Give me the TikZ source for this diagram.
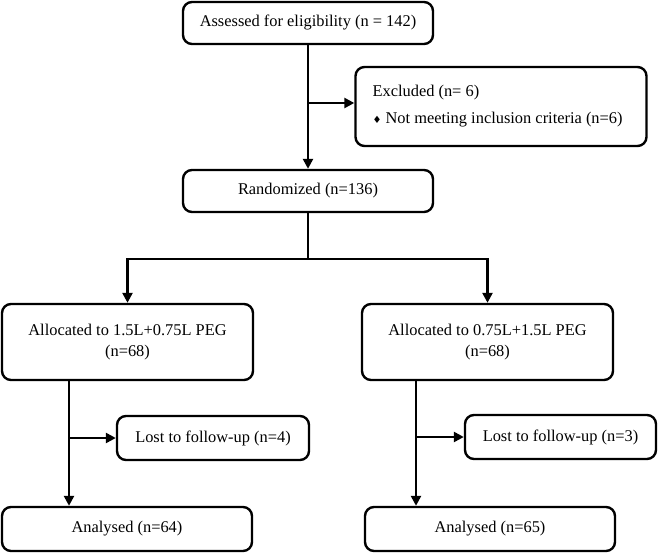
\documentclass[tikz,border=0pt]{standalone}
\usepackage{fontspec}
\setmainfont{Liberation Serif}
\newfontfamily\symfont{DejaVu Sans}
\usetikzlibrary{arrows.meta}
\begin{document}
\begin{tikzpicture}[x=1pt,y=-1pt,
  txt/.style={font=\fontsize{16.4}{21}\selectfont},
  box/.style={txt, draw, line width=2.4pt, rounded corners=9pt, inner sep=0pt, align=center},
  conn/.style={line width=2.4pt},
  arr/.style={conn, -{Triangle[length=10pt,width=10pt]}}]
\useasboundingbox (0,0) rectangle (658,553);
\node[box, minimum width=250pt, minimum height=42pt] (a) at (308,23) {Assessed for eligibility (n = 142)};
\node[box, minimum width=291pt, minimum height=79pt] (e) at (501,106.5) {};
\node[txt, anchor=west] (et1) at (369,93) {Excluded (n= 6)};
\node[txt, anchor=west] (et2) at (369,120) {{\symfont\fontsize{10}{10}\selectfont ♦} Not meeting inclusion criteria (n=6)};
\node[box, minimum width=250pt, minimum height=42pt] (r) at (308,191) {Randomized (n=136)};
\node[box, minimum width=251pt, minimum height=76pt] (al) at (127.5,342) {Allocated to 1.5L+0.75L PEG\\(n=68)};
\node[box, minimum width=251pt, minimum height=76pt] (ar) at (487.5,342) {Allocated to 0.75L+1.5L PEG\\(n=68)};
\node[box, minimum width=192pt, minimum height=44pt] (ll) at (213,438) {Lost to follow-up (n=4)};
\node[box, minimum width=191pt, minimum height=44pt] (lr) at (560.5,437) {Lost to follow-up (n=3)};
\node[box, minimum width=250pt, minimum height=44pt] (nl) at (127,529) {Analysed (n=64)};
\node[box, minimum width=250pt, minimum height=44pt] (nr) at (490,529) {Analysed (n=65)};
\coordinate (ex) at (308,103);
\coordinate (split) at (308,259);
\coordinate (sl) at (127.5,259);
\coordinate (sr) at (487.5,259);
\coordinate (vl) at (69,0);
\coordinate (vr) at (416,0);
\draw[arr] (a.south) -- (r.north);
\draw[arr] (ex) -- (ex -| e.west);
\draw[conn] (r.south) -- (split);
\draw[conn] ([xshift=-1.2pt]sl) -- ([xshift=1.2pt]sr);
\draw[arr] (sl) -- (al.north);
\draw[arr] (sr) -- (ar.north);
\draw[arr] (al.south -| vl) -- (nl.north -| vl);
\draw[arr] (ar.south -| vr) -- (nr.north -| vr);
\draw[arr] (ll.west -| vl) -- (ll.west);
\draw[arr] (lr.west -| vr) -- (lr.west);
\end{tikzpicture}
\end{document}
